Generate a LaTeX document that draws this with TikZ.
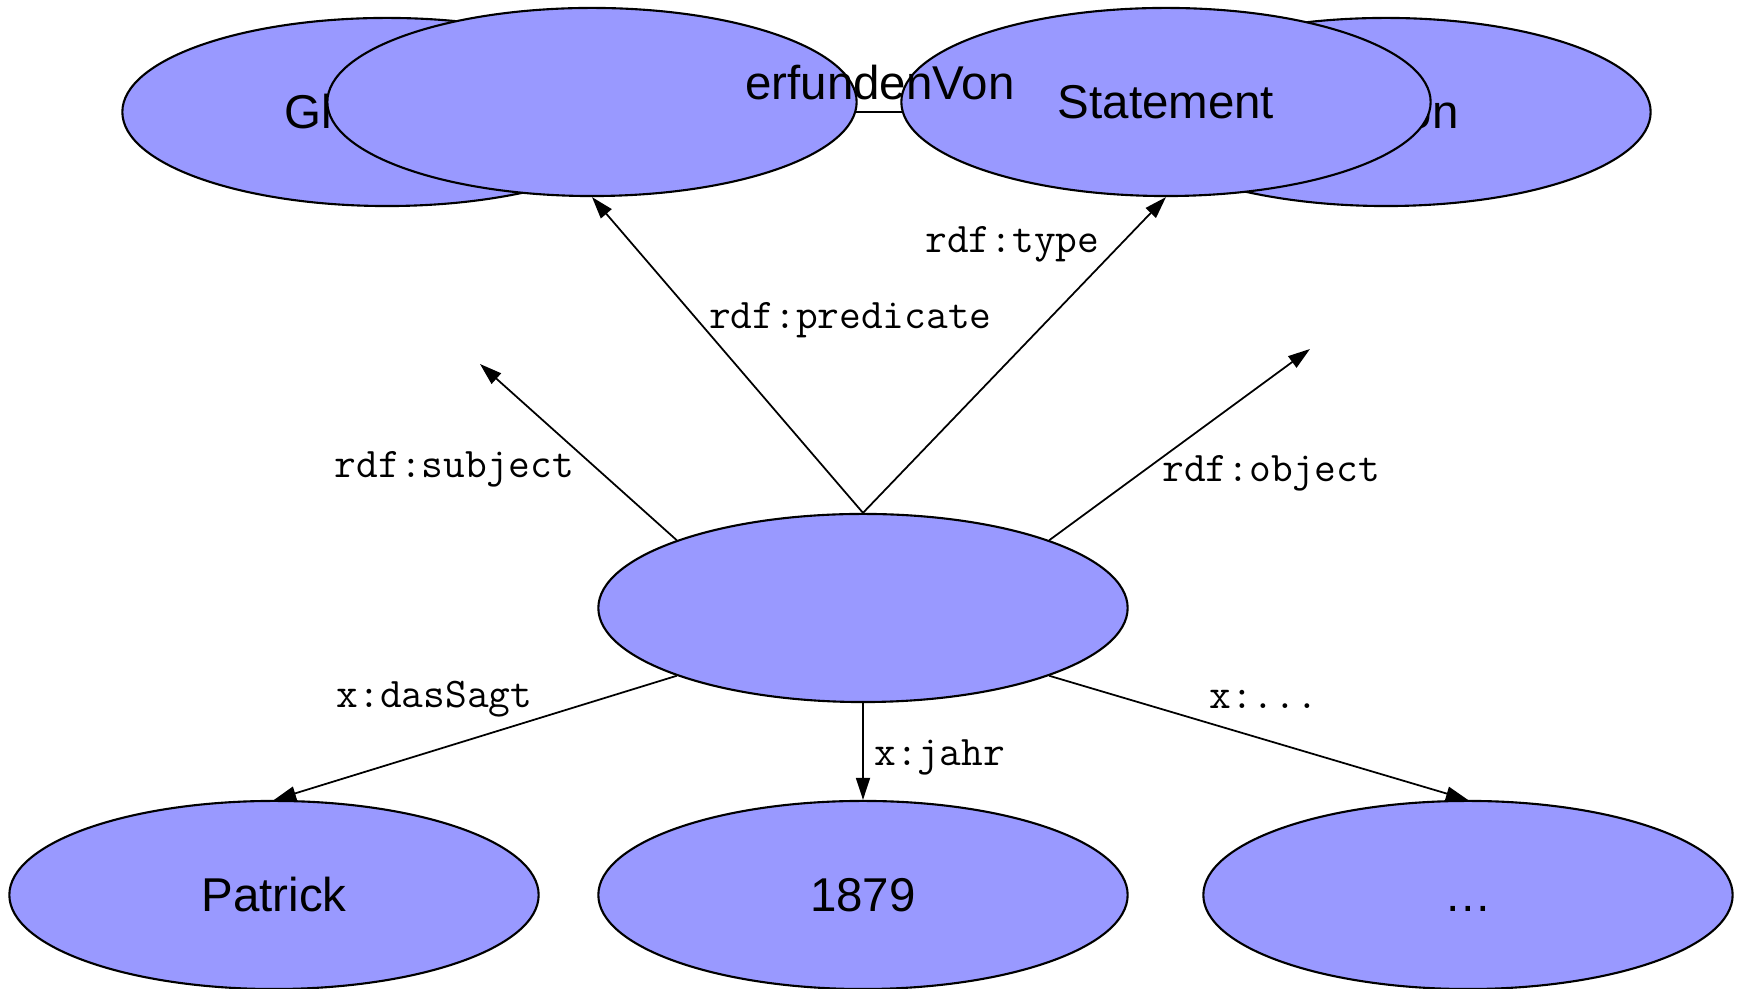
\documentclass[tikz,border=0pt]{standalone}
\usepackage{fontspec}
\setmainfont{Liberation Sans}
\usetikzlibrary{positioning,arrows.meta,shapes.geometric}
\definecolor{nodefill}{HTML}{9999FF}

\begin{document}
\begin{tikzpicture}[
  x=0.01cm, y=-0.01cm,
  >={Triangle[length=2.2mm, width=1.4mm]},
  res/.style={ellipse, draw, line width=0.6pt, fill=nodefill, inner sep=0pt, minimum width=5.29cm, minimum height=1.88cm, font=\fontsize{13.5}{16}\selectfont},
  lbl/.style={font=\ttfamily\fontsize{12}{14}\selectfont, inner sep=3pt},
  arr/.style={->, line width=0.5pt}
]
  \useasboundingbox (0,0) rectangle (1744,989);

  % Ausgangstripel
  \node[res] (glueh) at (387,112) {Glühbirne};
  \node[res] (edison) at (1386,112) {Edison};
  \draw[arr] (glueh) -- (edison);

  % Reifikation
  \node[res] (pred) at (592,102) {};
  \node[res] (stmtcls) at (1166,102) {Statement};
  \node[res] (stmt) at (863,608) {};
  \coordinate (subj) at (480,364);
  \coordinate (obj) at (1310,349);

  % Aussagen ueber die Aussage
  \node[res] (patrick) at (274,895) {Patrick};
  \node[res] (jahr) at (863,895) {1879};
  \node[res] (etc) at (1468,895) {\vphantom{P}…};

  % Kanten
  \draw[arr] (stmt.160) -- node[lbl, pos=0.42, left, xshift=-2.5pt, yshift=-1pt] {rdf:subject} (subj);
  \draw[arr] (stmt.north) -- node[lbl, pos=0.61, right] {rdf:predicate} (pred.south);
  \draw[arr] (stmt.north) -- node[lbl, pos=0.85, left, xshift=-2.8pt] {rdf:type} (stmtcls.south);
  \draw[arr] (stmt.20) -- node[lbl, pos=0.37, right, xshift=1.5pt, yshift=-1.2pt] {rdf:object} (obj);
  \draw[arr] (stmt.200) -- node[lbl, pos=0.36, above left, xshift=3.4pt, yshift=-2.2pt] {x:dasSagt} (patrick.north);
  \draw[arr] (stmt.south) -- node[lbl, pos=0.56, right] {x:jahr} (jahr.north);
  \draw[arr] (stmt.340) -- node[lbl, pos=0.38, above right, xshift=-3pt, yshift=1pt] {x:...} (etc.north);

  \node[font=\fontsize{13.5}{16}\selectfont, inner sep=0pt] (erf) at (880,83) {erfundenVon};

\end{tikzpicture}
\end{document}
